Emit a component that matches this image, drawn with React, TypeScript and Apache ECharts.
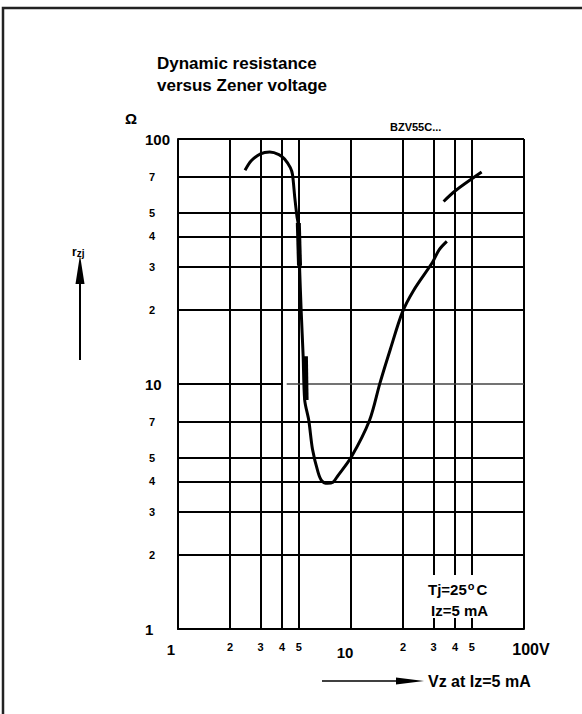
import React, { useEffect, useRef } from "react";
import * as echarts from "echarts";

// Vertical grid / labels (Zener voltage, V)
const X_TICKS = [1, 2, 3, 4, 5, 10, 20, 30, 40, 50, 100];
// Horizontal grid / labels (dynamic resistance, Ohm)
const Y_LABELS = [1, 2, 3, 4, 5, 7, 10, 20, 30, 40, 50, 70, 100];
const Y_GRID = [1, 2, 3, 4, 5, 7, 20, 30, 40, 50, 70, 100];

// Main curve
const vzMain = [2.44, 2.65, 3.0, 3.39, 3.83, 4.13, 4.46, 4.59, 4.73, 4.87, 4.94, 5.04, 5.15, 5.29, 5.4, 5.7, 5.99, 6.46, 6.79, 7.32, 7.86, 8.31, 10.04, 12.8, 14.7, 16.9, 19.8, 23.0, 29.6, 32.3, 35.8];
const rzMain = [74.5, 81.5, 87.0, 88.4, 86.4, 82.9, 76.4, 71.6, 57.8, 48.4, 45.4, 30.4, 20.0, 12.97, 8.6, 7.11, 5.42, 4.35, 4.02, 3.93, 3.97, 4.18, 5.03, 7.11, 10.08, 13.9, 19.6, 24.1, 31.4, 35.3, 38.2];
// Thick tolerance bars on the steep flank
const vzBarA = [4.96, 5.04];
const rzBarA = [45.4, 30.4];
const vzBarB = [5.45, 5.5];
const rzBarB = [12.97, 8.6];
// Upper right branch
const vzUpper = [34.3, 40.1, 56.9];
const rzUpper = [55.6, 61.5, 73.3];

const FONT = '"Liberation Sans", Arial, Helvetica, sans-serif';

function zip(a: number[], b: number[]) {
  return a.map((v, i) => [v, b[i]]);
}

export default function App() {
  const ref = useRef<HTMLDivElement>(null);

  useEffect(() => {
    if (!ref.current) return;
    const chart = echarts.init(ref.current, null, { renderer: "svg" });

    const lineSeries = (name: string, data: number[][], width: number, smooth: number | boolean) => ({
      name,
      type: "line",
      data,
      showSymbol: false,
      symbol: "none",
      smooth,
      lineStyle: { color: "#000", width, cap: "butt" },
      z: 5,
      silent: true,
    });

    const option: any = {
      animation: false,
      grid: { left: 178, top: 139, width: 346, height: 490, containLabel: false },
      xAxis: {
        type: "log",
        logBase: 10,
        min: 1,
        max: 100,
        axisLine: { show: true, lineStyle: { color: "#000", width: 2 } },
        axisTick: { show: false, customValues: X_TICKS },
        splitLine: { show: true, lineStyle: { color: "#000", width: 2 } },
        axisLabel: {
          customValues: X_TICKS,
          margin: 11,
          fontFamily: FONT,
          formatter: (v: number) => {
            const n = Math.round(v);
            if (n === 1) return "{one|1}";
            if (n === 10) return "{big|10}";
            if (n === 100) return "{hv|100V}";
            const d = n >= 10 ? n / 10 : n;
            return `{small|${d}}`;
          },
          rich: {
            one: { fontFamily: FONT, fontWeight: "bold", fontSize: 15, lineHeight: 18, color: "#000", padding: [0, 14, 0, 0] },
            big: { fontFamily: FONT, fontWeight: "bold", fontSize: 15, lineHeight: 24, color: "#000", padding: [0, 12, 0, 0] },
            hv: { fontFamily: FONT, fontWeight: "bold", fontSize: 16, lineHeight: 18, color: "#000", padding: [0, 0, 0, 14] },
            small: { fontFamily: FONT, fontWeight: "bold", fontSize: 11, lineHeight: 14, color: "#000" },
          },
        },
      },
      yAxis: {
        type: "log",
        logBase: 10,
        min: 1,
        max: 100,
        axisLine: { show: true, lineStyle: { color: "#000", width: 2 } },
        axisTick: { show: false, customValues: Y_GRID },
        splitLine: { show: true, lineStyle: { color: "#000", width: 2 } },
        axisLabel: {
          customValues: Y_LABELS,
          margin: 33,
          align: "left",
          fontFamily: FONT,
          formatter: (v: number) => {
            const n = Math.round(v);
            if (n === 1) return "{big|1}";
            if (n === 10) return "{big|10}";
            if (n === 100) return "{big|100}";
            const d = n >= 10 ? n / 10 : n;
            return `{small|${d}}`;
          },
          rich: {
            big: { fontFamily: FONT, fontWeight: "bold", fontSize: 15, color: "#000" },
            small: { fontFamily: FONT, fontWeight: "bold", fontSize: 11, color: "#000", padding: [0, 0, 0, 4] },
          },
        },
      },
      series: [
        {
          ...lineSeries("main", zip(vzMain, rzMain), 3, 0.3),
          markLine: {
            silent: true,
            symbol: "none",
            animation: false,
            label: { show: false },
            data: [
              [
                { coord: [1, 10], lineStyle: { color: "#000", width: 2, type: "solid" } },
                { coord: [4.02, 10] },
              ],
              [
                { coord: [4.25, 10], lineStyle: { color: "#444", width: 1.5, type: "solid" } },
                { coord: [100, 10] },
              ],
            ],
          },
        },
        lineSeries("barA", zip(vzBarA, rzBarA), 5, false),
        lineSeries("barB", zip(vzBarB, rzBarB), 5, false),
        lineSeries("upper", zip(vzUpper, rzUpper), 3, 0.3),
      ],
      graphic: [
        {
          type: "rect",
          shape: { x: 3, y: 8, width: 620, height: 740 },
          style: { fill: "none", stroke: "#222", lineWidth: 2.5 },
          silent: true,
        },
        {
          type: "text",
          x: 157,
          y: 52,
          style: {
            text: "Dynamic resistance\nversus Zener voltage",
            font: `bold 17px ${FONT}`,
            fill: "#000",
            align: "left",
            verticalAlign: "top",
            lineHeight: 22,
          },
        },
        {
          type: "text",
          x: 131,
          y: 118,
          style: { text: "Ω", font: `bold 15px ${FONT}`, fill: "#000", align: "center", verticalAlign: "middle" },
        },
        {
          type: "text",
          x: 390,
          y: 127,
          style: { text: "BZV55C...", font: `bold 11px ${FONT}`, fill: "#000", align: "left", verticalAlign: "middle" },
        },
        {
          type: "text",
          x: 72,
          y: 252,
          style: {
            text: "{r|r}{s|zj}",
            align: "left",
            verticalAlign: "middle",
            rich: {
              r: { font: `bold 12px ${FONT}`, fill: "#000" },
              s: { font: `bold 10px ${FONT}`, fill: "#000", verticalAlign: "bottom" },
            },
          },
        },
        {
          type: "line",
          shape: { x1: 80, y1: 360, x2: 80, y2: 280 },
          style: { stroke: "#000", lineWidth: 2 },
        },
        {
          type: "polygon",
          shape: { points: [[80, 255], [75.5, 284], [84.5, 284]] },
          style: { fill: "#000" },
        },
        {
          type: "line",
          shape: { x1: 322, y1: 681, x2: 400, y2: 681 },
          style: { stroke: "#000", lineWidth: 1.5 },
        },
        {
          type: "polygon",
          shape: { points: [[424, 681], [396, 677.5], [396, 684.5]] },
          style: { fill: "#000" },
        },
        {
          type: "text",
          x: 428,
          y: 681,
          style: { text: "Vz at Iz=5 mA", font: `bold 16px ${FONT}`, fill: "#000", align: "left", verticalAlign: "middle" },
        },
        {
          type: "rect",
          z: 50,
          shape: { x: 421, y: 575, width: 80, height: 43 },
          style: { fill: "#fff" },
          silent: true,
        },
        {
          type: "text",
          z: 51,
          x: 428,
          y: 589,
          style: {
            text: "{a|Tj=25}{o|o}{c|C}",
            align: "left",
            verticalAlign: "middle",
            rich: {
              a: { font: `bold 15px ${FONT}`, fill: "#000", lineHeight: 18 },
              o: { font: `bold 11px ${FONT}`, fill: "#000", lineHeight: 18, verticalAlign: "top", padding: [0, 0, 6, 1] },
              c: { font: `bold 15px ${FONT}`, fill: "#000", lineHeight: 18, padding: [0, 0, 0, 2] },
            },
          },
        },
        {
          type: "text",
          z: 51,
          x: 431,
          y: 610,
          style: { text: "Iz=5 mA", font: `bold 15px ${FONT}`, fill: "#000", align: "left", verticalAlign: "middle" },
        },
      ],
    };

    chart.setOption(option);
    return () => chart.dispose();
  }, []);

  return (
    <div
      ref={ref}
      style={{ position: "fixed", left: 0, top: 0, width: 582, height: 714, background: "#fff" }}
    />
  );
}
